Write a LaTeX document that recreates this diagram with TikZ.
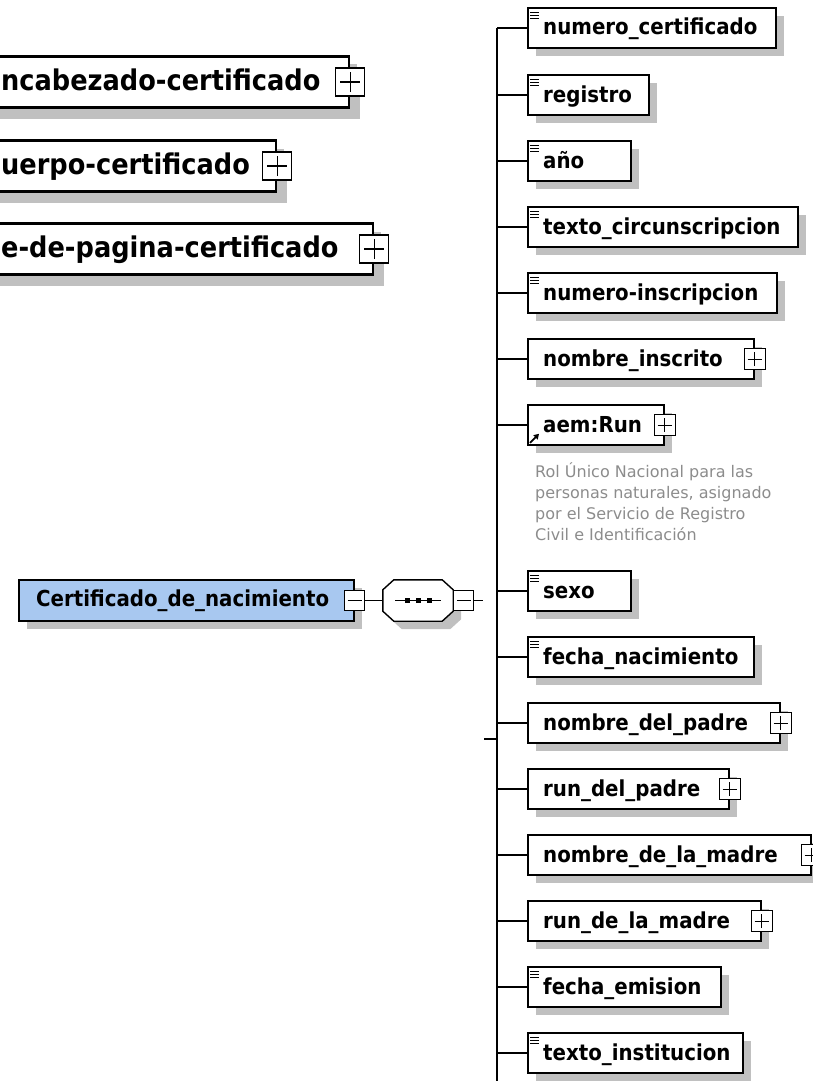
\documentclass[tikz,border=0pt]{standalone}
\usepackage{fontspec}
\newfontfamily\elemfont[FakeStretch=0.9]{DejaVu Sans}
\newfontfamily\notefont{DejaVu Sans}
\usetikzlibrary{shadows,arrows.meta}
\definecolor{shadowgray}{RGB}{192,192,192}
\definecolor{rootblue}{RGB}{168,200,240}
\definecolor{notegray}{RGB}{140,140,140}

% one child element of the sequence: box, name, connector from the bus
\newcommand{\rowbox}[4]{%
  \node[box, minimum width={(#3-527)*1pt}] (#1) at (527,#2) {};
  \node[lbl] (#1-t) at ([xshift=16pt,yshift=-7pt]#1.west) {#4};
  \draw[conn] (#1.west -| bus) -- (#1.west);
}
% simple-content marker in the top left corner of a box
\newcommand{\fixicon}[1]{%
  \foreach \k in {0,1,2}
    \draw[line width=0.9pt] ([xshift=3pt,yshift={-(5+3*\k)*1pt}]#1.north west) -- ++(9,0);
}
% octagonal outline of a compositor node
\newcommand{\octpath}[1]{%
  ([xshift=11pt]#1.north west) -- ([xshift=-11pt]#1.north east) --
  ([yshift=-10pt]#1.north east) -- ([yshift=10pt]#1.south east) --
  ([xshift=-11pt]#1.south east) -- ([xshift=11pt]#1.south west) --
  ([yshift=10pt]#1.south west) -- ([yshift=-10pt]#1.north west) -- cycle}

\begin{document}
\begin{tikzpicture}[x=1pt,y=-1pt,
  conn/.style={draw=black, line width=1.8pt},
  box/.style={draw=black, line width=1.7pt, fill=white, minimum height=40pt,
    inner sep=0pt, anchor=west,
    general shadow={fill=shadowgray, shadow xshift=8pt, shadow yshift=-8pt}},
  bigbox/.style={box, line width=2.2pt, minimum height=51pt,
    general shadow={fill=shadowgray, shadow xshift=11pt, shadow yshift=-11pt}},
  lbl/.style={font=\elemfont\bfseries\fontsize{22}{26}\selectfont, inner sep=0pt, anchor=base west},
  biglbl/.style={font=\elemfont\bfseries\fontsize{28.5}{32}\selectfont, inner sep=0pt, anchor=base west},
  toggle/.style={draw=black, line width=1.2pt, fill=white, minimum size=21pt, inner sep=0pt},
  plus/.style={toggle, path picture={
      \draw[line width=1pt] ([xshift=-7pt]path picture bounding box.center) -- ([xshift=7pt]path picture bounding box.center);
      \draw[line width=1pt] ([yshift=-7pt]path picture bounding box.center) -- ([yshift=7pt]path picture bounding box.center);}},
  minus/.style={toggle, minimum size=20pt, path picture={
      \draw[line width=1pt] ([xshift=-7pt]path picture bounding box.center) -- ([xshift=7pt]path picture bounding box.center);}},
  bigplus/.style={plus, line width=1.5pt, minimum width=29pt, minimum height=28pt, path picture={
      \draw[line width=1.4pt] ([xshift=-10pt]path picture bounding box.center) -- ([xshift=10pt]path picture bounding box.center);
      \draw[line width=1.4pt] ([yshift=-10pt]path picture bounding box.center) -- ([yshift=10pt]path picture bounding box.center);}},
  seqbox/.style={minimum width=70pt, minimum height=41pt, inner sep=0pt},
  note/.style={font=\notefont\fontsize{16}{21}\selectfont, text=notegray, inner sep=0pt,
    align=left, anchor=north west}
]
\useasboundingbox (0,0) rectangle (813,1081);

% global elements, shown collapsed
\node[bigbox, minimum width=378pt] (hdr) at (-30,82) {};
\node[biglbl] (hdr-t) at (1,90) {ncabezado-certificado};
\node[bigplus] (hdr-p) at (hdr.east) {};

\node[bigbox, minimum width=305pt] (body) at (-30,166) {};
\node[biglbl] (body-t) at (1,174) {uerpo-certificado};
\node[bigplus] (body-p) at (body.east) {};

\node[bigbox, minimum width=402pt] (foot) at (-30,249) {};
\node[biglbl] (foot-t) at (1,257) {e-de-pagina-certificado};
\node[bigplus] (foot-p) at (foot.east) {};

% root element and its sequence compositor
\node[box, fill=rootblue, minimum width=335pt, minimum height=41pt] (root) at (18,600.5) {};
\node[lbl] (root-t) at ([xshift=18pt,yshift=-6pt]root.west) {Certificado\_de\_nacimiento};
\node[minus] (root-m) at (root.east) {};

\node[seqbox] (seq) at (418,600.5) {};
\fill[shadowgray, transform canvas={xshift=8pt,yshift=-8pt}] \octpath{seq};
\filldraw[fill=white, draw=black, line width=1.4pt] \octpath{seq};
\draw[line width=1.3pt] ([xshift=-23pt]seq.center) -- ([xshift=23pt]seq.center);
\foreach \dx in {-11,0,11}
  \fill ([shift={(\dx-2.5,-2.5)}]seq.center) rectangle ([shift={(\dx+2.5,2.5)}]seq.center);
\node[minus, anchor=west] (seq-m) at (seq.east) {};
\draw[conn] (root-m) -- (seq);
\coordinate (seqend) at (483,600.5);
\draw[conn] (seq-m.east) -- (seqend);

% vertical bus of the sequence
\coordinate (bus) at (497,28);
\coordinate (busend) at (497,1090);
\draw[conn] (bus) -- (busend);
\coordinate (jog) at (484,739);
\draw[conn] (jog) -- (jog -| bus);

% children
\rowbox{numcert}{28}{775}{numero\_certificado}
\fixicon{numcert}
\rowbox{registro}{95}{648}{registro}
\fixicon{registro}
\rowbox{anio}{161}{630}{año}
\fixicon{anio}
\rowbox{circ}{227}{797}{texto\_circunscripcion}
\fixicon{circ}
\rowbox{numins}{293}{776}{numero-inscripcion}
\fixicon{numins}
\rowbox{nomins}{359}{753}{nombre\_inscrito}
\node[plus] (nomins-p) at (nomins.east) {};
\rowbox{run}{425}{663}{aem:Run}
\node[plus] (run-p) at (run.east) {};
\draw[line width=1.8pt, -{Triangle[length=5pt,width=6pt]}] ([shift={(3,-3)}]run.south west) -- ([shift={(12,-12)}]run.south west);
\node[note] (run-doc) at (535,460) {\rule{0pt}{17pt}Rol Único Nacional para las\\personas naturales, asignado\\por el Servicio de Registro\\Civil e Identificación};
\rowbox{sexo}{591}{630}{sexo}
\fixicon{sexo}
\rowbox{fnac}{657}{753}{fecha\_nacimiento}
\fixicon{fnac}
\rowbox{nompadre}{723}{779}{nombre\_del\_padre}
\node[plus] (nompadre-p) at (nompadre.east) {};
\rowbox{runpadre}{789}{728}{run\_del\_padre}
\node[plus] (runpadre-p) at (runpadre.east) {};
\rowbox{nommadre}{855}{810}{nombre\_de\_la\_madre}
\node[plus] (nommadre-p) at (nommadre.east) {};
\rowbox{runmadre}{921}{760}{run\_de\_la\_madre}
\node[plus] (runmadre-p) at (runmadre.east) {};
\rowbox{femision}{987}{720}{fecha\_emision}
\fixicon{femision}
\rowbox{textinst}{1053}{742}{texto\_institucion}
\fixicon{textinst}
\end{tikzpicture}
\end{document}
